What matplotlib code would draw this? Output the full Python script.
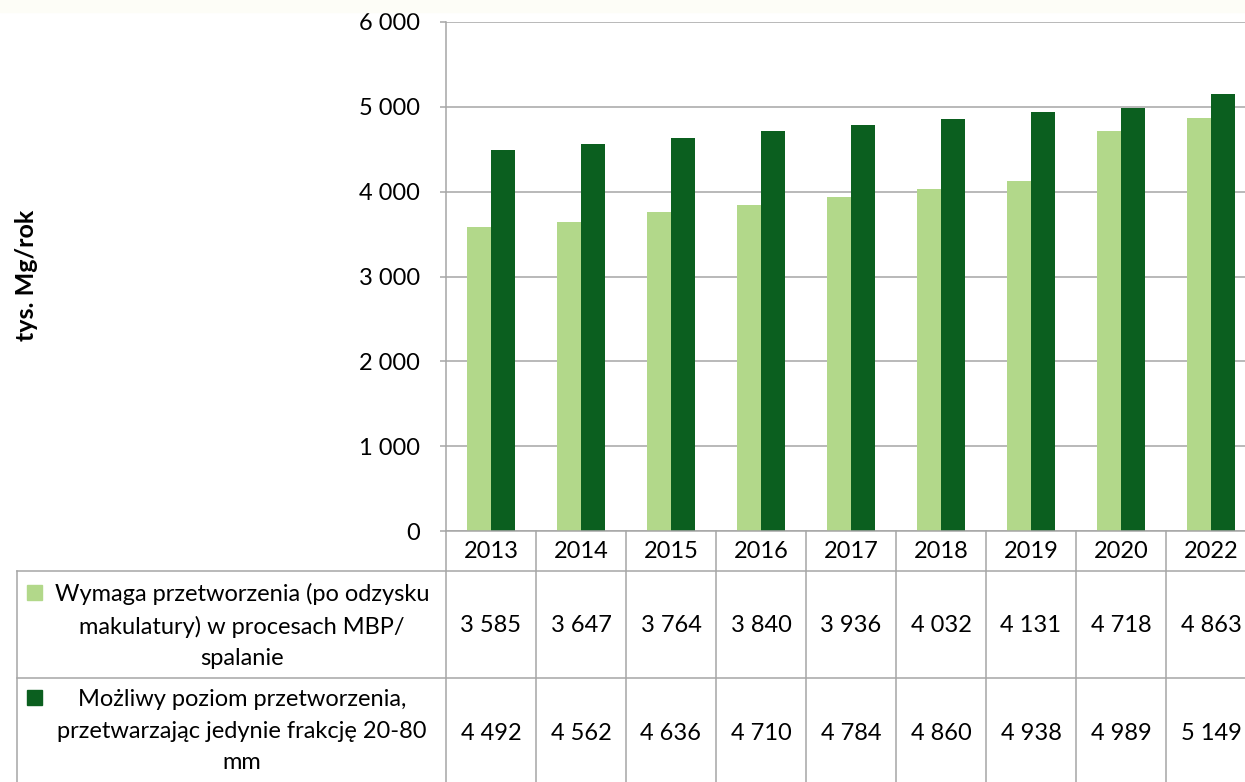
import matplotlib.pyplot as plt
from matplotlib.lines import Line2D
from matplotlib.patches import Rectangle
from matplotlib.transforms import blended_transform_factory

years = ["2013", "2014", "2015", "2016", "2017", "2018", "2019", "2020", "2022"]
wymaga = [3585, 3647, 3764, 3840, 3936, 4032, 4131, 4718, 4863]
mozliwy = [4492, 4562, 4636, 4710, 4784, 4860, 4938, 4989, 5149]
series_labels = ["Wymaga przetworzenia (po odzysku\nmakulatury) w procesach MBP/\nspalanie",
                 "Możliwy poziom przetworzenia,\nprzetwarzając jedynie frakcję 20-80\nmm"]
y_ticks = [0, 1000, 2000, 3000, 4000, 5000, 6000]

light = "#b2d88a"
dark = "#0b5f1f"
grid_c = "#a6a6a6"

W, H = 1245, 782
plt.rcParams['font.family'] = ['Lato', 'DejaVu Sans']

def fy(py):
    return 1 - py / H

def fx(px):
    return px / W

fig = plt.figure(figsize=(W / 100, H / 100), dpi=100)
fig.patches.append(Rectangle((0, fy(12)), 1, 12 / H, transform=fig.transFigure,
                             color="#fdfdf7", zorder=0))

ax = fig.add_axes([fx(446), fy(531), fx(1256) - fx(446), fy(22) - fy(531)])
x = list(range(len(years)))
bw = 0.27
ax.bar([i - bw / 2 for i in x], wymaga, width=bw, color=light, zorder=3)
ax.bar([i + bw / 2 for i in x], mozliwy, width=bw, color=dark, zorder=3)

ax.set_xlim(-0.5, len(years) - 0.5)
ax.set_ylim(0, 6000)
ax.set_yticks(y_ticks)
ax.set_yticklabels([f"{v:,}".replace(",", " ") for v in y_ticks], fontsize=17)
ax.set_xticks([])
ax.yaxis.grid(True, color=grid_c, lw=1.1, zorder=0)
ax.tick_params(axis="y", length=4.5, width=1.1, color=grid_c, pad=14)
for s in ["top", "right", "bottom"]:
    ax.spines[s].set_visible(False)
ax.spines["left"].set_color(grid_c)
ax.spines["left"].set_linewidth(1.1)

fig.text(fx(27), fy(275), "tys. Mg/rok", rotation=90, fontsize=18, fontweight="bold",
         ha="center", va="center")

# data table under the plot
bt = blended_transform_factory(ax.transData, fig.transFigure)
xr = len(years) - 0.5

def hline(py, x0_fig):
    fig.add_artist(Line2D([x0_fig, 1], [fy(py), fy(py)], transform=fig.transFigure,
                          color=grid_c, lw=1.1))

fig.add_artist(Line2D([-0.5, xr], [fy(531), fy(531)], transform=bt, color=grid_c, lw=1.1))
hline(571, fx(17))
hline(678, fx(17))
fig.add_artist(Line2D([fx(17), fx(17)], [fy(571), 0], transform=fig.transFigure,
                      color=grid_c, lw=1.1))
for i in range(len(years)):
    xb = i - 0.5
    fig.add_artist(Line2D([xb, xb], [fy(531), 0], transform=bt, color=grid_c, lw=1.1))

for i, yr in enumerate(years):
    fig.text(i, fy(551), yr, transform=bt, ha="center", va="center", fontsize=17)
    fig.text(i, fy(626), f"{wymaga[i]:,}".replace(",", " "), transform=bt,
             ha="center", va="center", fontsize=17)
    fig.text(i, fy(733), f"{mozliwy[i]:,}".replace(",", " "), transform=bt,
             ha="center", va="center", fontsize=17)

for label, col, ytop in [(series_labels[0], light, 593), (series_labels[1], dark, 698)]:
    fig.patches.append(Rectangle((fx(27), fy(ytop + 7)), 15 / W, 15 / H,
                                 transform=fig.transFigure, color=col))
    fig.text(fx(242), fy(ytop + 33), label, ha="center", va="center", fontsize=17,
             linespacing=1.6)

fig.savefig("out.png", dpi=100, facecolor="white")
